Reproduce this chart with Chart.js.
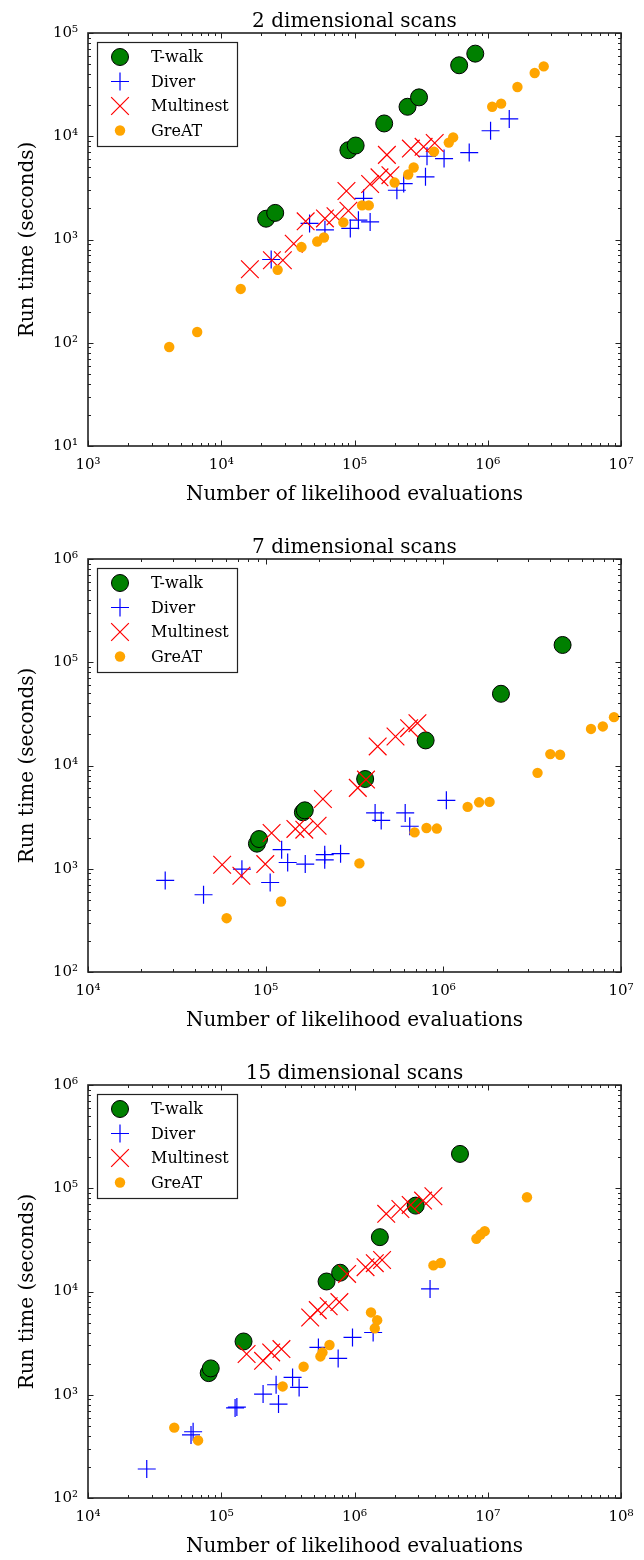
<!DOCTYPE html>
<html>
<head>
<meta charset="utf-8">
<script src="https://cdn.jsdelivr.net/npm/chart.js@4.4.0/dist/chart.umd.min.js"></script>
<style>
  html, body { margin: 0; padding: 0; background: #fff; overflow: hidden; }
  canvas { position: absolute; left: 0; }
</style>
</head>
<body>
<canvas id="scan2d" width="644" height="520" style="top:0px"></canvas>
<canvas id="scan7d" width="644" height="520" style="top:526px"></canvas>
<canvas id="scan15d" width="644" height="520" style="top:1052px"></canvas>
<script>
// Run time vs. number of likelihood evaluations, one panel per scan dimension

const seriesNames = ['T-walk', 'Diver', 'Multinest', 'GreAT'];

// 2 dimensional scans
const twalk2dEvals = [2.17e4, 2.54e4, 9.0e4, 1.02e5, 1.67e5, 2.5e5, 3.05e5, 6.1e5, 8.06e5];
const twalk2dTimes = [1590, 1810, 7330, 8130, 13300, 19300, 23800, 48700, 63100];
const diver2dEvals = [2.37e4, 4.6e4, 6.0e4, 9.3e4, 1.07e5, 1.31e5, 1.17e5, 2.08e5, 2.34e5, 3.41e5, 3.5e5, 4.7e5, 7.26e5, 1.05e6, 1.45e6];
const diver2dTimes = [640, 1430, 1240, 1280, 1540, 1480, 2500, 3000, 3480, 4050, 6400, 6080, 6950, 11300, 14700];
const multi2dEvals = [1.64e4, 2.4e4, 2.9e4, 3.5e4, 4.3e4, 6.0e4, 7.2e4, 9.0e4, 8.7e4, 1.31e5, 1.54e5, 1.86e5, 1.75e5, 2.65e5, 3.3e5, 4.0e5];
const multi2dTimes = [515, 630, 630, 910, 1500, 1600, 1680, 1900, 2950, 3450, 4000, 4200, 6600, 7600, 7900, 8600];
const great2dEvals = [4070, 6600, 1.4e4, 2.65e4, 4.0e4, 5.25e4, 5.9e4, 8.25e4, 1.14e5, 1.28e5, 2.0e5, 2.53e5, 2.78e5, 3.95e5, 5.1e5, 5.5e5, 1.08e6, 1.26e6, 1.67e6, 2.25e6, 2.63e6];
const great2dTimes = [91, 127, 332, 508, 845, 955, 1045, 1465, 2140, 2140, 3560, 4260, 4980, 7100, 8680, 9750, 19300, 20700, 30000, 41000, 47500];

// 7 dimensional scans
const twalk7dEvals = [8.93e4, 9.18e4, 1.62e5, 1.66e5, 3.63e5, 7.95e5, 2.11e6, 4.69e6];
const twalk7dTimes = [1750, 1940, 3520, 3680, 7400, 17500, 49500, 147000];
const diver7dEvals = [2.72e4, 4.47e4, 7.35e4, 1.06e5, 1.23e5, 1.33e5, 1.67e5, 2.15e5, 2.15e5, 2.64e5, 4.13e5, 4.47e5, 6.1e5, 6.47e5, 1.04e6];
const diver7dTimes = [770, 560, 990, 736, 1530, 1150, 1110, 1370, 1220, 1400, 3470, 2940, 3470, 2580, 4600];
const multi7dEvals = [5.69e4, 7.3e4, 9.95e4, 1.08e5, 1.47e5, 1.65e5, 1.96e5, 2.1e5, 3.3e5, 3.67e5, 4.27e5, 5.38e5, 6.42e5, 7.15e5];
const multi7dTimes = [1094, 855, 1110, 2220, 2430, 2390, 2610, 4740, 6070, 7310, 15300, 19100, 23000, 25700];
const great7dEvals = [6.03e4, 1.22e5, 3.37e5, 6.89e5, 8.04e5, 9.19e5, 1.37e6, 1.59e6, 1.82e6, 3.39e6, 4.0e6, 4.54e6, 6.78e6, 7.9e6, 9.13e6];
const great7dTimes = [332, 482, 1127, 2250, 2480, 2450, 3970, 4400, 4440, 8490, 12900, 12700, 22600, 23900, 29400];

// 15 dimensional scans
const twalk15dEvals = [8.05e4, 8.34e4, 1.47e5, 6.17e5, 7.8e5, 1.55e6, 2.88e6, 6.19e6];
const twalk15dTimes = [1620, 1800, 3280, 12500, 15200, 33600, 67900, 215000];
const diver15dEvals = [2.76e4, 5.93e4, 6.15e4, 1.27e5, 1.31e5, 2.06e5, 2.58e5, 2.69e5, 3.43e5, 3.84e5, 5.36e5, 7.54e5, 9.66e5, 1.38e6, 3.69e6];
const diver15dTimes = [191, 408, 438, 745, 760, 1015, 1250, 812, 1470, 1178, 2870, 2250, 3590, 4010, 10600];
const multi15dEvals = [1.55e5, 2.06e5, 2.37e5, 2.83e5, 4.65e5, 5.3e5, 6.4e5, 7.7e5, 8.8e5, 1.21e6, 1.42e6, 1.61e6, 1.73e6, 2.21e6, 2.64e6, 3.27e6, 3.91e6];
const multi15dTimes = [2480, 2130, 2570, 2770, 5600, 6600, 7200, 7900, 14800, 17200, 18800, 20200, 56500, 63000, 69000, 76000, 83700];
const great15dEvals = [4.44e4, 6.7e4, 2.89e5, 4.15e5, 5.55e5, 5.75e5, 6.49e5, 1.33e6, 1.42e6, 1.48e6, 3.91e6, 4.44e6, 8.22e6, 8.83e6, 9.49e6, 1.97e7];
const great15dTimes = [480, 361, 1204, 1870, 2350, 2570, 3030, 6270, 4390, 5280, 17900, 18900, 32400, 35600, 38400, 81800];

const SERIF = '"DejaVu Serif", "Liberation Serif", serif';

// marker look of each sampler, shared by plot and legend
const markerStyles = [
  { pointStyle: 'circle', pointRadius: 8.5, backgroundColor: '#008000', borderColor: '#000000', borderWidth: 1, order: 4 },
  { pointStyle: 'cross', pointRadius: 9, backgroundColor: '#0000ff', borderColor: '#0000ff', borderWidth: 1.2, order: 3 },
  { pointStyle: 'crossRot', pointRadius: 12.5, backgroundColor: '#ff0000', borderColor: '#ff0000', borderWidth: 1.2, order: 2 },
  { pointStyle: 'circle', pointRadius: 5.2, backgroundColor: '#ffa500', borderColor: '#ffa500', borderWidth: 0, order: 1 }
];

const SUP = { '-': '⁻', '0': '⁰', '1': '¹', '2': '²', '3': '³', '4': '⁴', '5': '⁵', '6': '⁶', '7': '⁷', '8': '⁸', '9': '⁹' };

function powerLabel(value) {
  const e = Math.round(Math.log10(value));
  if (Math.abs(value / Math.pow(10, e) - 1) > 1e-6) return '';
  return '10' + String(e).split('').map(c => SUP[c]).join('');
}

function toPoints(xs, ys) {
  return xs.map((x, i) => ({ x: x, y: ys[i] }));
}

function logTicks(min, max) {
  const out = [];
  const e0 = Math.floor(Math.log10(min) + 1e-9);
  const e1 = Math.ceil(Math.log10(max) - 1e-9);
  for (let e = e0; e <= e1; e++) {
    for (let k = 1; k <= 9; k++) {
      const v = k * Math.pow(10, e);
      if (v >= min * 0.999 && v <= max * 1.001) out.push({ v: v, major: k === 1 });
    }
  }
  return out;
}

// frame with inward ticks on all four sides, panel title and boxed legend
const panelDecor = {
  id: 'panelDecor',
  afterDraw(chart, args, opts) {
    const { ctx, chartArea: a } = chart;
    const xs = chart.scales.x, ys = chart.scales.y;
    ctx.save();
    ctx.strokeStyle = '#222';
    ctx.lineWidth = 1;
    ctx.beginPath();
    logTicks(xs.min, xs.max).forEach(t => {
      const px = Math.round(xs.getPixelForValue(t.v)) + 0.5;
      const len = t.major ? 5.5 : 3;
      ctx.moveTo(px, a.bottom); ctx.lineTo(px, a.bottom - len);
      ctx.moveTo(px, a.top); ctx.lineTo(px, a.top + len);
    });
    logTicks(ys.min, ys.max).forEach(t => {
      const py = Math.round(ys.getPixelForValue(t.v)) + 0.5;
      const len = t.major ? 5.5 : 3;
      ctx.moveTo(a.left, py); ctx.lineTo(a.left + len, py);
      ctx.moveTo(a.right, py); ctx.lineTo(a.right - len, py);
    });
    ctx.stroke();
    ctx.lineWidth = 1.6;
    ctx.strokeRect(a.left, a.top, a.right - a.left, a.bottom - a.top);

    // title above the plot area
    ctx.fillStyle = '#000';
    ctx.font = '20px ' + SERIF;
    ctx.textAlign = 'center';
    ctx.textBaseline = 'middle';
    ctx.fillText(opts.text, (a.left + a.right) / 2, a.top - 11);

    // legend box in the upper left corner
    const bx = a.left + 9, by = a.top + 9, bw = 140, bh = 104;
    ctx.fillStyle = '#fff';
    ctx.fillRect(bx, by, bw, bh);
    ctx.lineWidth = 1.2;
    ctx.strokeStyle = '#222';
    ctx.strokeRect(bx + 0.5, by + 0.5, bw, bh);
    ctx.font = '16px ' + SERIF;
    ctx.textAlign = 'left';
    chart.data.datasets.forEach((ds, i) => {
      const cy = a.top + 24 + i * 24.5;
      const cx = a.left + 32;
      ctx.fillStyle = ds.backgroundColor;
      ctx.strokeStyle = ds.borderColor;
      ctx.lineWidth = ds.borderWidth;
      Chart.helpers.drawPoint(ctx, {
        pointStyle: ds.pointStyle, radius: ds.pointRadius, rotation: 0, borderWidth: ds.borderWidth
      }, cx, cy);
      ctx.fillStyle = '#000';
      ctx.fillText(ds.label, a.left + 63, cy + 1);
    });
    ctx.restore();
  }
};

function makePanel(canvasId, title, xMin, xMax, yMin, yMax, evals, times) {
  const datasets = seriesNames.map((name, i) => Object.assign({
    label: name,
    data: toPoints(evals[i], times[i]),
    pointHoverRadius: markerStyles[i].pointRadius
  }, markerStyles[i]));

  const tickFont = { family: SERIF, size: 15 };
  const titleFont = { family: SERIF, size: 20 };

  new Chart(document.getElementById(canvasId), {
    type: 'scatter',
    data: { datasets: datasets },
    options: {
      responsive: false,
      animation: false,
      events: [],
      layout: { padding: { top: 33, right: 23, left: 0, bottom: 0 } },
      plugins: {
        legend: { display: false },
        tooltip: { enabled: false },
        panelDecor: { text: title }
      },
      scales: {
        x: {
          type: 'logarithmic',
          min: xMin,
          max: xMax,
          afterFit: s => { s.height = 74; s.paddingLeft = 0; s.paddingRight = 0; },
          grid: { display: false, drawTicks: false },
          border: { display: false },
          ticks: {
            autoSkip: false, maxRotation: 0, minRotation: 0, padding: 10,
            color: '#000', font: tickFont, callback: powerLabel
          },
          title: {
            display: true, text: 'Number of likelihood evaluations',
            color: '#000', font: titleFont, padding: { top: 0, bottom: 13 }
          }
        },
        y: {
          type: 'logarithmic',
          min: yMin,
          max: yMax,
          afterFit: s => { s.width = 88; s.paddingTop = 0; s.paddingBottom = 0; },
          grid: { display: false, drawTicks: false },
          border: { display: false },
          ticks: {
            autoSkip: false, padding: 10,
            color: '#000', font: tickFont, callback: powerLabel
          },
          title: {
            display: true, text: 'Run time (seconds)',
            color: '#000', font: titleFont, padding: { top: 16, bottom: 0 }
          }
        }
      }
    },
    plugins: [panelDecor]
  });
}

makePanel('scan2d', '2 dimensional scans', 1e3, 1e7, 1e1, 1e5,
  [twalk2dEvals, diver2dEvals, multi2dEvals, great2dEvals],
  [twalk2dTimes, diver2dTimes, multi2dTimes, great2dTimes]);

makePanel('scan7d', '7 dimensional scans', 1e4, 1e7, 1e2, 1e6,
  [twalk7dEvals, diver7dEvals, multi7dEvals, great7dEvals],
  [twalk7dTimes, diver7dTimes, multi7dTimes, great7dTimes]);

makePanel('scan15d', '15 dimensional scans', 1e4, 1e8, 1e2, 1e6,
  [twalk15dEvals, diver15dEvals, multi15dEvals, great15dEvals],
  [twalk15dTimes, diver15dTimes, multi15dTimes, great15dTimes]);
</script>
</body>
</html>
